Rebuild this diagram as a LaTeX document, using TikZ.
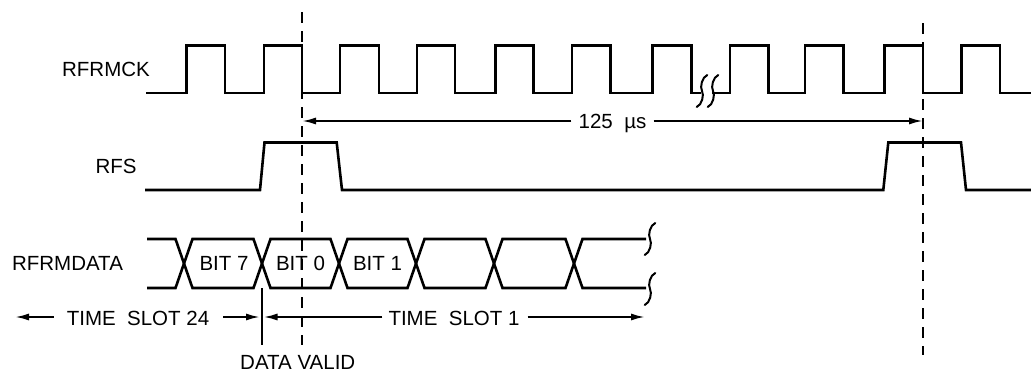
\documentclass[tikz,border=0pt]{standalone}
\usepackage{fontspec}
\setmainfont{Liberation Sans}
\usetikzlibrary{arrows.meta}
\begin{document}
\begin{tikzpicture}[x=1pt,y=-1pt,
  wave/.style={line width=2.6pt, line join=miter},
  guide/.style={line width=2pt, dash pattern=on 11pt off 8pt},
  dim/.style={line width=2pt, -{Latex[length=14pt,width=7pt]}},
  thin/.style={line width=2pt},
  lbl/.style={font=\fontsize{20.5}{24}\selectfont, inner sep=0pt, anchor=base},
  brkmark/.pic={\draw[line width=2pt, line cap=round] (5.3,-16) .. controls (0.1,-14) and (-2.3,-4) .. (0,0) .. controls (2.3,4) and (-0.1,14) .. (-5.3,16);}]
\useasboundingbox (0,0) rectangle (1031,372);

% guide lines
\coordinate (g1t) at (302,12);  \coordinate (g1b) at (302,345);
\coordinate (g2t) at (923,23);  \coordinate (g2b) at (923,355);
\draw[guide] (g1t) -- (g1b);
\draw[guide] (g2t) -- (g2b);

% labels
\node[lbl] (ck)  at (106,76.3)   {RFRMCK};
\node[lbl] (rfs) at (116,173.3)  {RFS};
\node[lbl] (dat) at (67.5,270.8) {RFRMDATA};

% clock
\draw[wave] (146,93)
  foreach \r/\f in {186.5/225, 264/302, 340/379, 417/455, 495.5/533.5, 572/610.5, 652.5/691.5}
  { -- (\r,93) -- (\r,45.5) -- (\f,45.5) -- (\f,93) } -- (701,93);
\draw[wave] (712,93)
  foreach \r/\f in {730/768.5, 805/843.5, 884.5/923, 961.5/1000}
  { -- (\r,93) -- (\r,45.5) -- (\f,45.5) -- (\f,93) } -- (1031,93);
\pic at (702,91) {brkmark};
\pic at (713,91) {brkmark};

% 125 us
\coordinate (m1) at (302,121);
\coordinate (m2) at (923,121);
\node[lbl] (us) at (612.5,128.5) {125\ \ µs};
\draw[dim] ([xshift=-7pt]us.west |- m1) -- (m1);
\draw[dim] ([xshift=7pt]us.east |- m2) -- (m2);

% RFS
\draw[wave] (145,190) -- (260,190) -- (264.5,142.5) -- (336.7,142.5) -- (342,190)
  -- (883.3,190) -- (888.3,142.5) -- (961,142.5) -- (966,190) -- (1031,190);

% data
\draw[wave] (147,239) -- (175.5,239) -- (192.5,288) -- (253.5,288) -- (270.5,239)
  -- (330.5,239) -- (347.5,288) -- (407.5,288) -- (424.5,239) -- (485.5,239)
  -- (502.5,288) -- (565.5,288) -- (582.5,239) -- (646,239);
\draw[wave] (147,288) -- (175.5,288) -- (192.5,239) -- (253.5,239) -- (270.5,288)
  -- (330.5,288) -- (347.5,239) -- (407.5,239) -- (424.5,288) -- (485.5,288)
  -- (502.5,239) -- (565.5,239) -- (582.5,288) -- (646,288);
\pic at (650,239) {brkmark};
\pic at (650,289) {brkmark};
\node[lbl] (b7) at (224,270.8)   {BIT 7};
\node[lbl] (b0) at (300.5,270.8) {BIT 0};
\node[lbl] (b1) at (377.5,270.8) {BIT 1};

% time slots
\node[lbl] (ts24) at (138,325) {TIME\ \ SLOT 24};
\node[lbl] (ts1)  at (454,325) {TIME\ \ SLOT 1};
\coordinate (a1) at (15,317);
\coordinate (a2) at (260,317);
\coordinate (a3) at (263.5,317);
\coordinate (a4) at (645,317);
\draw[dim] ([xshift=-13pt]ts24.west |- a1) -- (a1);
\draw[dim] ([xshift=14pt]ts24.east |- a2) -- (a2);
\draw[dim] ([xshift=-6pt]ts1.west |- a3) -- (a3);
\draw[dim] ([xshift=8pt]ts1.east |- a4) -- (a4);

% data valid
\coordinate (dvt) at (261.7,288);
\coordinate (dvb) at (261.7,345);
\draw[thin] (dvt) -- (dvb);
\node[lbl, anchor=base west] (dv) at (240,369.5) {DATA VALID};
\end{tikzpicture}
\end{document}
